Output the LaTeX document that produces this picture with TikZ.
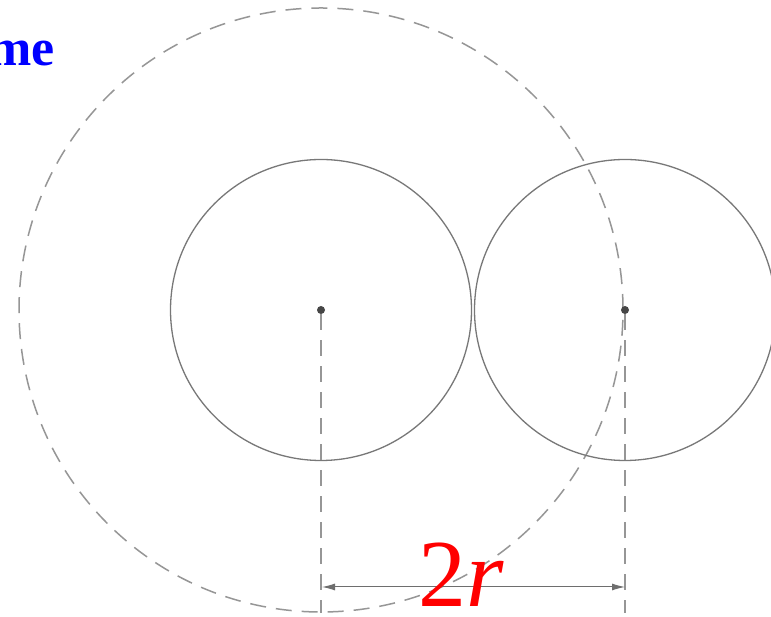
\documentclass[tikz,border=0pt]{standalone}
\usepackage{fontspec}
\setmainfont{Liberation Serif}
\usetikzlibrary{arrows.meta}
\definecolor{solidgray}{RGB}{120,120,120}
\definecolor{dashgray}{RGB}{150,150,150}
\definecolor{dotgray}{RGB}{70,70,70}
\definecolor{dimgray}{RGB}{110,110,110}
\tikzset{
  solidcirc/.style={circle,draw=solidgray,line width=1.3pt,inner sep=0pt,minimum size=#1},
  dashcirc/.style={circle,draw=dashgray,line width=1.5pt,dash pattern=on 16pt off 10pt,inner sep=0pt,minimum size=#1},
  centerdot/.style={circle,fill=dotgray,inner sep=0pt,minimum size=8pt},
  dashline/.style={draw=dashgray,line width=1.5pt,dash pattern=on 16pt off 10pt},
  dimline/.style={draw=dimgray,line width=1pt,{Latex[length=13pt,width=7pt]}-{Latex[length=13pt,width=7pt]}}
}
\begin{document}
\begin{tikzpicture}[x=1pt,y=1pt]
\useasboundingbox (0,0) rectangle (771,617);
\fill[white] (0,0) rectangle (771,617);
\clip (0,0) rectangle (771,617);
\node[dashcirc=604pt] (big) at (321,307) {};
\node[solidcirc=301pt] (c1) at (321,307) {};
\node[solidcirc=301pt] (c2) at (625,307) {};
\node[centerdot] (o1) at (321,307) {};
\node[centerdot] (o2) at (625,307) {};
\coordinate (b1) at (321,4);
\coordinate (b2) at (625,4);
\draw[dashline] (o1) -- (b1);
\draw[dashline] (o2) -- (b2);
\coordinate (d1) at (322,30);
\coordinate (d2) at (625,30);
\draw[dimline] (d1) -- (d2);
\node[anchor=base west,inner sep=0pt,text=blue,font=\bfseries\fontsize{52}{52}\selectfont] (me) at (-12,551) {me};
\node[anchor=base west,inner sep=0pt,text=red,font=\fontsize{96}{96}\selectfont] (tworr) at (418,10) {2\textit{r}};
\end{tikzpicture}
\end{document}
